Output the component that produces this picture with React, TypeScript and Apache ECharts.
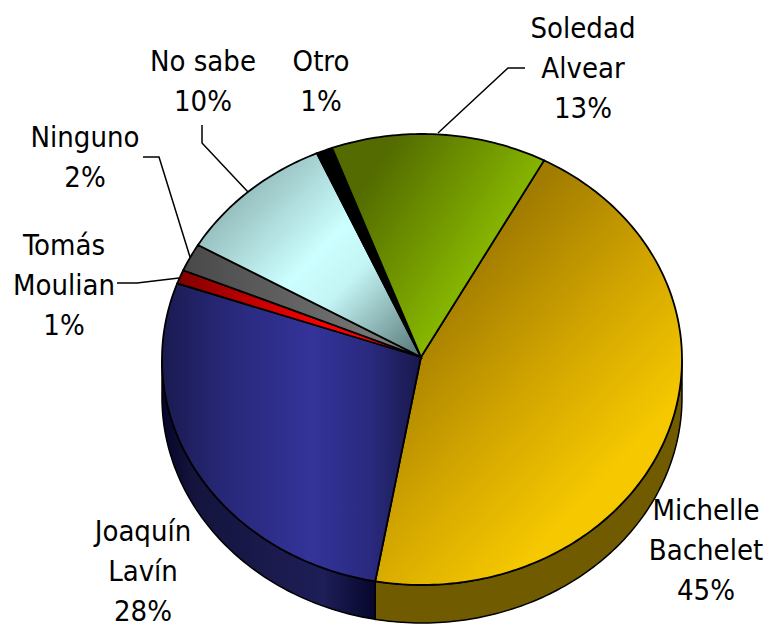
import React, { useEffect, useRef } from "react";
import * as echarts from "echarts";

const categories = ["Michelle\nBachelet", "Joaquín\nLavín", "Tomás\nMoulian", "Ninguno", "No sabe", "Otro", "Soledad\nAlvear"];
const shares = [45.1, 27.6, 1, 2, 9.9, 1, 13.4];

const START_DEG = 28;
const CX = 422, CY = 359.5, RX = 260, RY = 225.5, DEPTH = 38;
const APEX_X = 421, APEX_Y = 357;
const FONT = "'DejaVu Sans Condensed', 'DejaVu Sans', sans-serif";

const grad = (x: number, y: number, x2: number, y2: number, stops: [number, string][]) =>
  new echarts.graphic.LinearGradient(x, y, x2, y2, stops.map(([offset, color]) => ({ offset, color })), true);

const topFills = [
  grad(470, 260, 650, 430, [[0, "#a27c00"], [0.55, "#d4a700"], [1, "#f5c800"]]),
  grad(162, 0, 421, 0, [[0, "#1a1a50"], [0.25, "#28287a"], [0.58, "#333399"], [0.8, "#2a2a80"], [1, "#18184a"]]),
  grad(178, 0, 420, 0, [[0, "#800000"], [0.6, "#ff0000"], [1, "#ff0000"]]),
  grad(190, 0, 420, 0, [[0, "#4a4a4a"], [1, "#808080"]]),
  grad(235, 175, 415, 350, [[0, "#8db2b2"], [0.45, "#ccffff"], [0.62, "#c4f5f5"], [1, "#5f7f7f"]]),
  "#000000",
  grad(360, 190, 480, 270, [[0, "#536b00"], [1, "#88b800"]]),
];
const wallFills = [
  "#705b00",
  grad(162, 0, 377, 0, [[0, "#05052a"], [0.15, "#14143d"], [0.75, "#1e1e58"], [1, "#05052a"]]),
  "#000", "#000", "#000", "#000", "#000",
];

const labelPos = [
  [706, 550], [143, 571], [64, 285], [85, 157], [203, 81], [321, 81], [583, 68],
];
const leaders: number[][][] = [
  [[525, 68], [508, 68], [438, 133]],
  [[202, 125], [202, 143], [248, 192]],
  [[143, 157], [159, 157], [190, 257]],
  [[117, 283], [137, 283], [179, 278]],
];

const rad = (d: number) => (d * Math.PI) / 180;
const pt = (deg: number, dy = 0) => [CX + RX * Math.sin(rad(deg)), CY - RY * Math.cos(rad(deg)) + dy];
const arc = (a: number, b: number, dy = 0) => {
  const pts: number[][] = [];
  const n = Math.max(2, Math.ceil(Math.abs(b - a) / 1));
  for (let i = 0; i <= n; i++) pts.push(pt(a + ((b - a) * i) / n, dy));
  return pts;
};
const sliceRange = (i: number) => {
  const sum = shares.slice(0, i).reduce((s, v) => s + v, 0);
  return [START_DEG + sum * 3.6, START_DEG + (sum + shares[i]) * 3.6];
};

export default function App() {
  const ref = useRef<HTMLDivElement>(null);
  useEffect(() => {
    document.body.style.margin = "0";
    const chart = echarts.init(ref.current!, undefined, { renderer: "svg" });
    const data = shares.map((v, i) => [i, v]);
    chart.setOption({
      animation: false,
      backgroundColor: "#ffffff",
      graphic: {
        elements: [
          ...leaders.map((points) => ({
            type: "polyline",
            z: 5,
            shape: { points },
            style: { fill: "none", stroke: "#000", lineWidth: 1.5 },
          })),
          ...categories.map((c, i) => ({
            type: "text",
            z: 6,
            x: labelPos[i][0],
            y: labelPos[i][1],
            style: {
              text: `${c}\n${Math.round(shares[i])}%`,
              font: `29px ${FONT}`,
              fill: "#000",
              align: "center",
              verticalAlign: "middle",
              lineHeight: 40,
            },
          })),
        ],
      },
      series: [
        {
          type: "custom",
          coordinateSystem: "none",
          z: 1,
          silent: true,
          data,
          renderItem: (_p: any, api: any) => {
            const i = api.value(0);
            const [a, b] = sliceRange(i);
            const from = Math.max(a, 90), to = Math.min(b, 270);
            if (to <= from) return { type: "group", children: [] };
            const points = [...arc(from, to), ...arc(to, from, DEPTH)];
            return {
              type: "polygon",
              shape: { points },
              style: { fill: wallFills[i], stroke: "#000", lineWidth: 1.5 },
            };
          },
        },
        {
          type: "custom",
          coordinateSystem: "none",
          z: 2,
          silent: true,
          data,
          renderItem: (_p: any, api: any) => {
            const i = api.value(0);
            const [a, b] = sliceRange(i);
            const points = [[APEX_X, APEX_Y], ...arc(a, b)];
            return {
              type: "polygon",
              shape: { points },
              style: { fill: topFills[i], stroke: "#000", lineWidth: 1.8 },
            };
          },
        },
      ],
    });
    return () => chart.dispose();
  }, []);
  return <div ref={ref} style={{ width: 769, height: 624, position: "absolute", left: 0, top: 0 }} />;
}
